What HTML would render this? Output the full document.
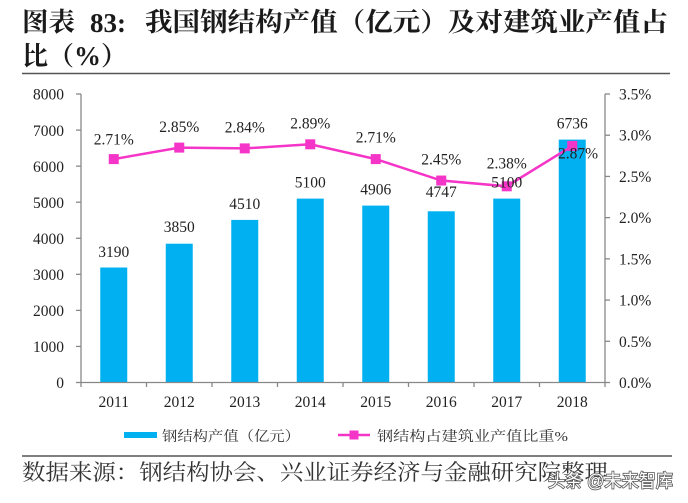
<!DOCTYPE html>
<html><head><meta charset="utf-8"><style>
html,body{margin:0;padding:0;background:#fff;}
svg{display:block;}
.t{font-family:"Liberation Serif","Noto Serif CJK SC",serif;}
</style></head><body>
<svg width="688" height="503" viewBox="0 0 688 503" xmlns="http://www.w3.org/2000/svg">
<rect width="688" height="503" fill="#fff"/>
<!-- Title -->
<g font-family="'Liberation Serif','Noto Serif CJK SC',serif" font-weight="bold" fill="#1a1a1a">
<text x="22" y="31" font-size="26" textLength="53" lengthAdjust="spacingAndGlyphs">图表</text>
<text x="90" y="32" font-size="27">83:</text>
<text x="145" y="31" font-size="26" textLength="523" lengthAdjust="spacingAndGlyphs">我国钢结构产值（亿元）及对建筑业产值占</text>
<text x="22" y="65" font-size="26">比（<tspan font-size="27">%</tspan>）</text>
</g>
<line x1="22" y1="73.5" x2="670" y2="73.5" stroke="#555" stroke-width="1.5"/>

<!-- Bars -->
<g fill="#00b0f0">
<rect x="100.25" y="267.5" width="27" height="115"/>
<rect x="165.75" y="243.7" width="27" height="138.8"/>
<rect x="231.25" y="219.9" width="27" height="162.6"/>
<rect x="296.75" y="198.6" width="27" height="183.9"/>
<rect x="362.25" y="205.6" width="27" height="176.9"/>
<rect x="427.75" y="211.3" width="27" height="171.2"/>
<rect x="493.25" y="198.6" width="27" height="183.9"/>
<rect x="558.75" y="139.6" width="27" height="242.9"/>
</g>

<!-- Axes -->
<g stroke="#888" stroke-width="1.3" fill="none">
<line x1="81" y1="94" x2="81" y2="382.5"/>
<line x1="605" y1="94" x2="605" y2="382.5"/>
<line x1="81" y1="382.5" x2="605" y2="382.5"/>
<!-- left ticks -->
<line x1="76" y1="382.5" x2="81" y2="382.5"/>
<line x1="76" y1="346.44" x2="81" y2="346.44"/>
<line x1="76" y1="310.38" x2="81" y2="310.38"/>
<line x1="76" y1="274.32" x2="81" y2="274.32"/>
<line x1="76" y1="238.26" x2="81" y2="238.26"/>
<line x1="76" y1="202.2" x2="81" y2="202.2"/>
<line x1="76" y1="166.14" x2="81" y2="166.14"/>
<line x1="76" y1="130.08" x2="81" y2="130.08"/>
<line x1="76" y1="94" x2="81" y2="94"/>
<!-- right ticks -->
<line x1="605" y1="382.5" x2="610" y2="382.5"/>
<line x1="605" y1="341.29" x2="610" y2="341.29"/>
<line x1="605" y1="300.07" x2="610" y2="300.07"/>
<line x1="605" y1="258.86" x2="610" y2="258.86"/>
<line x1="605" y1="217.64" x2="610" y2="217.64"/>
<line x1="605" y1="176.43" x2="610" y2="176.43"/>
<line x1="605" y1="135.21" x2="610" y2="135.21"/>
<line x1="605" y1="94" x2="610" y2="94"/>
<!-- x ticks -->
<line x1="81" y1="382.5" x2="81" y2="387"/>
<line x1="146.5" y1="382.5" x2="146.5" y2="387"/>
<line x1="212" y1="382.5" x2="212" y2="387"/>
<line x1="277.5" y1="382.5" x2="277.5" y2="387"/>
<line x1="343" y1="382.5" x2="343" y2="387"/>
<line x1="408.5" y1="382.5" x2="408.5" y2="387"/>
<line x1="474" y1="382.5" x2="474" y2="387"/>
<line x1="539.5" y1="382.5" x2="539.5" y2="387"/>
<line x1="605" y1="382.5" x2="605" y2="387"/>
</g>

<!-- Line series -->
<polyline points="113.75,159.1 179.25,147.6 244.75,148.4 310.25,144.3 375.75,159.1 441.25,180.55 506.75,186.3 572.25,145.9" fill="none" stroke="#f535c8" stroke-width="2.5"/>
<g fill="#f535c8">
<rect x="108.75" y="154.1" width="10" height="10"/>
<rect x="174.25" y="142.6" width="10" height="10"/>
<rect x="239.75" y="143.4" width="10" height="10"/>
<rect x="305.25" y="139.3" width="10" height="10"/>
<rect x="370.75" y="154.1" width="10" height="10"/>
<rect x="436.25" y="175.55" width="10" height="10"/>
<rect x="501.75" y="181.3" width="10" height="10"/>
<rect x="567.25" y="140.9" width="10" height="10"/>
</g>

<!-- Tick labels -->
<g class="t" font-size="15.5" fill="#222">
<g text-anchor="end">
<text x="64" y="388">0</text>
<text x="64" y="352">1000</text>
<text x="64" y="316">2000</text>
<text x="64" y="280">3000</text>
<text x="64" y="244">4000</text>
<text x="64" y="208">5000</text>
<text x="64" y="172">6000</text>
<text x="64" y="136">7000</text>
<text x="64" y="99.5">8000</text>
</g>
<g text-anchor="start">
<text x="619" y="388">0.0%</text>
<text x="619" y="347">0.5%</text>
<text x="619" y="305.5">1.0%</text>
<text x="619" y="264.5">1.5%</text>
<text x="619" y="223">2.0%</text>
<text x="619" y="182">2.5%</text>
<text x="619" y="140.5">3.0%</text>
<text x="619" y="99.5">3.5%</text>
</g>
<g text-anchor="middle">
<text x="113.75" y="407">2011</text>
<text x="179.25" y="407">2012</text>
<text x="244.75" y="407">2013</text>
<text x="310.25" y="407">2014</text>
<text x="375.75" y="407">2015</text>
<text x="441.25" y="407">2016</text>
<text x="506.75" y="407">2017</text>
<text x="572.25" y="407">2018</text>
</g>
<!-- value labels -->
<g text-anchor="middle">
<text x="113.75" y="257">3190</text>
<text x="179.25" y="232">3850</text>
<text x="244.75" y="209">4510</text>
<text x="310.25" y="187.5">5100</text>
<text x="375.75" y="194.5">4906</text>
<text x="441.25" y="197">4747</text>
<text x="506.75" y="187.5">5100</text>
<text x="572.25" y="128.5">6736</text>
<text x="113.75" y="144.5">2.71%</text>
<text x="179.25" y="132">2.85%</text>
<text x="244.75" y="132.5">2.84%</text>
<text x="310.25" y="128.5">2.89%</text>
<text x="375.75" y="142.5">2.71%</text>
<text x="441.25" y="164.5">2.45%</text>
<text x="506.75" y="168.5">2.38%</text>
<text x="578" y="158.5">2.87%</text>
</g>
</g>

<!-- Legend -->
<rect x="124" y="432" width="33" height="6" fill="#00b0f0"/>
<text x="162" y="441" font-family="'Liberation Serif','Noto Serif CJK SC',serif" font-size="14" fill="#333" textLength="138" lengthAdjust="spacingAndGlyphs">钢结构产值（亿元）</text>
<line x1="338" y1="435" x2="370" y2="435" stroke="#f535c8" stroke-width="2.5"/>
<rect x="349.5" y="430.5" width="9" height="9" fill="#f535c8"/>
<text x="377" y="441" font-family="'Liberation Serif','Noto Serif CJK SC',serif" font-size="14" fill="#333" textLength="191" lengthAdjust="spacingAndGlyphs">钢结构占建筑业产值比重%</text>

<!-- Bottom -->
<line x1="22" y1="456" x2="672" y2="456" stroke="#555" stroke-width="1.5"/>
<text x="22" y="480" font-family="'Liberation Serif','Noto Serif CJK SC',serif" font-size="22" fill="#333" textLength="586" lengthAdjust="spacingAndGlyphs">数据来源：钢结构协会、兴业证券经济与金融研究院整理</text>
<text x="548" y="487" font-family="'Liberation Sans','Noto Sans CJK SC',sans-serif" font-size="18" fill="#fff" stroke="#555" stroke-width="1.6" paint-order="stroke" textLength="125" lengthAdjust="spacingAndGlyphs">头条 @未来智库</text>
</svg>
</body></html>
